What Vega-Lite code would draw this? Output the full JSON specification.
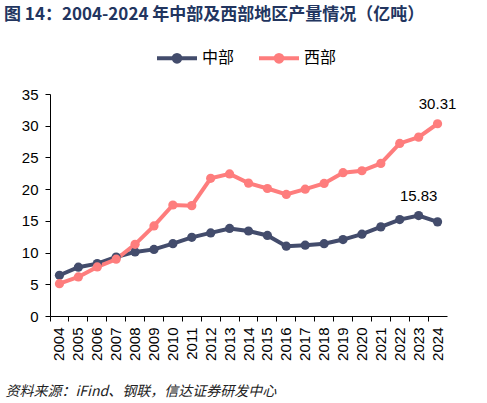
{
  "$schema": "https://vega.github.io/schema/vega-lite/v6.json",
  "autosize": {"type": "none"},
  "width": 397,
  "height": 222,
  "padding": {"left": 50, "top": 94, "right": 40, "bottom": 87},
  "background": "white",
  "title": {
    "text": "图 14：2004-2024 年中部及西部地区产量情况（亿吨）",
    "anchor": "start",
    "frame": "group",
    "dx": -46,
    "font": "Noto Sans CJK SC",
    "fontSize": 17,
    "fontWeight": "bold",
    "color": "#22355f",
    "offset": 12
  },
  "config": {
    "view": {"stroke": null},
    "font": "Liberation Sans"
  },
  "data": {
    "values": [
      {"year": "2004", "region": "中部", "value": 6.42},
      {"year": "2005", "region": "中部", "value": 7.7},
      {"year": "2006", "region": "中部", "value": 8.26},
      {"year": "2007", "region": "中部", "value": 9.3},
      {"year": "2008", "region": "中部", "value": 10.1},
      {"year": "2009", "region": "中部", "value": 10.5},
      {"year": "2010", "region": "中部", "value": 11.4},
      {"year": "2011", "region": "中部", "value": 12.4},
      {"year": "2012", "region": "中部", "value": 13.1},
      {"year": "2013", "region": "中部", "value": 13.8},
      {"year": "2014", "region": "中部", "value": 13.4},
      {"year": "2015", "region": "中部", "value": 12.7},
      {"year": "2016", "region": "中部", "value": 11.0},
      {"year": "2017", "region": "中部", "value": 11.16},
      {"year": "2018", "region": "中部", "value": 11.4},
      {"year": "2019", "region": "中部", "value": 12.05},
      {"year": "2020", "region": "中部", "value": 12.9},
      {"year": "2021", "region": "中部", "value": 14.05},
      {"year": "2022", "region": "中部", "value": 15.2},
      {"year": "2023", "region": "中部", "value": 15.83, "label": "15.83"},
      {"year": "2024", "region": "中部", "value": 14.84},
      {"year": "2004", "region": "西部", "value": 5.1},
      {"year": "2005", "region": "西部", "value": 6.16},
      {"year": "2006", "region": "西部", "value": 7.74},
      {"year": "2007", "region": "西部", "value": 8.95},
      {"year": "2008", "region": "西部", "value": 11.3},
      {"year": "2009", "region": "西部", "value": 14.2},
      {"year": "2010", "region": "西部", "value": 17.5},
      {"year": "2011", "region": "西部", "value": 17.4},
      {"year": "2012", "region": "西部", "value": 21.7},
      {"year": "2013", "region": "西部", "value": 22.4},
      {"year": "2014", "region": "西部", "value": 20.95},
      {"year": "2015", "region": "西部", "value": 20.1},
      {"year": "2016", "region": "西部", "value": 19.16},
      {"year": "2017", "region": "西部", "value": 20.0},
      {"year": "2018", "region": "西部", "value": 20.9},
      {"year": "2019", "region": "西部", "value": 22.6},
      {"year": "2020", "region": "西部", "value": 22.9},
      {"year": "2021", "region": "西部", "value": 24.05},
      {"year": "2022", "region": "西部", "value": 27.2},
      {"year": "2023", "region": "西部", "value": 28.2},
      {"year": "2024", "region": "西部", "value": 30.31, "label": "30.31"}
    ]
  },
  "encoding": {
    "x": {
      "field": "year",
      "type": "ordinal",
      "bandPosition": 0.5,
      "scale": {"type": "band", "paddingInner": 0, "paddingOuter": 0},
      "axis": {
        "bandPosition": 0,
        "labelAngle": -90,
        "labelAlign": "right",
        "labelBaseline": "middle",
        "labelFontSize": 15,
        "labelColor": "black",
        "labelPadding": 6,
        "domainColor": "black",
        "tickColor": "black",
        "tickSize": 5,
        "title": "资料来源：iFind、钢联，信达证券研发中心",
        "titleFont": "Noto Sans CJK SC",
        "titleFontStyle": "italic",
        "titleFontWeight": "normal",
        "titleFontSize": 14,
        "titleColor": "#222222",
        "titleAnchor": "start",
        "titleAlign": "left",
        "titleBaseline": "alphabetic",
        "titleX": -45,
        "titleY": 79
      }
    },
    "y": {
      "field": "value",
      "type": "quantitative",
      "scale": {"domain": [0, 35]},
      "axis": {
        "values": [0, 5, 10, 15, 20, 25, 30, 35],
        "grid": false,
        "title": null,
        "labelFontSize": 15,
        "labelColor": "black",
        "labelPadding": 7,
        "domainColor": "black",
        "tickColor": "black",
        "tickSize": 5
      }
    },
    "color": {
      "field": "region",
      "type": "nominal",
      "scale": {"domain": ["中部", "西部"], "range": ["#434c6c", "#fe7d7d"]},
      "legend": {
        "orient": "none",
        "legendX": 105,
        "legendY": -58,
        "direction": "horizontal",
        "title": null,
        "symbolType": "M-1,0L1,0M-0.17,0A0.17,0.17 0 1,1 0.17,0A0.17,0.17 0 1,1 -0.17,0Z",
        "symbolSize": 1600,
        "symbolStrokeWidth": 4,
        "labelFont": "Noto Sans CJK SC",
        "labelFontSize": 16,
        "labelColor": "black",
        "labelOffset": 3,
        "columnPadding": 16
      }
    }
  },
  "layer": [
    {
      "mark": {"type": "line", "strokeWidth": 4, "point": {"filled": true, "size": 85, "opacity": 1}}
    },
    {
      "transform": [{"filter": "datum.label != null"}],
      "mark": {"type": "text", "dy": -20, "fontSize": 15, "color": "black"},
      "encoding": {"text": {"field": "label"}, "color": {"value": "black"}}
    }
  ]
}
